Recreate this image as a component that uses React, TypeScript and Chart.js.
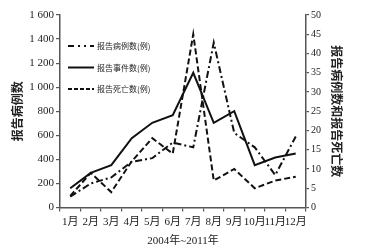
import { useEffect, useRef } from 'react';
import { Chart, registerables } from 'chart.js';

Chart.register(...registerables);

const months = ['1月', '2月', '3月', '4月', '5月', '6月', '7月', '8月', '9月', '10月', '11月', '12月'];
const caseCounts = [90, 200, 250, 380, 410, 540, 500, 1370, 620, 500, 270, 590];
const eventCounts = [5, 9, 11, 18, 22, 24, 35, 22, 25, 11, 13, 14];
const deathCounts = [3, 9, 4, 12, 18, 14, 45, 7, 10, 5, 7, 8];
const seriesLabels = ['报告病例数(例)', '报告事件数(例)', '报告死亡数(例)'];
const leftTitle = '报告病例数';
const rightTitle = '报告病例数和报告死亡数';
const xTitle = '2004年~2011年';

const FONT = "'Liberation Serif', 'Noto Sans CJK SC', serif";
const CJK = "'Noto Sans CJK SC', sans-serif";
const AXIS = '#555';
const INK = '#111';

const legendPlugin = {
  id: 'insideLegend',
  afterDatasetsDraw(chart: any) {
    const ctx = chart.ctx;
    const x0 = chart.chartArea.left + 8;
    const y0 = chart.chartArea.top + 31;
    ctx.save();
    chart.data.datasets.forEach((ds: any, i: number) => {
      const y = y0 + i * 21.5;
      ctx.beginPath();
      ctx.setLineDash(ds.legendDash || []);
      ctx.lineWidth = 2;
      ctx.strokeStyle = INK;
      ctx.moveTo(x0, y);
      ctx.lineTo(x0 + 26, y);
      ctx.stroke();
      ctx.setLineDash([]);
      ctx.fillStyle = '#222';
      ctx.font = `8px ${CJK}`;
      ctx.textBaseline = 'middle';
      ctx.textAlign = 'left';
      ctx.fillText(ds.label, x0 + 29, y);
    });
    ctx.restore();
  },
};

export default function App() {
  const ref = useRef<HTMLCanvasElement>(null);
  useEffect(() => {
    document.body.style.margin = '0';
    const chart = new Chart(ref.current!, {
      type: 'line',
      data: {
        labels: months,
        datasets: [
          {
            label: seriesLabels[0],
            data: caseCounts,
            yAxisID: 'yL',
            borderColor: INK,
            borderWidth: 2,
            borderDash: [7, 3, 2, 3],
            legendDash: [6, 4, 2, 4, 2, 4],
            pointRadius: 0,
            tension: 0,
          } as any,
          {
            label: seriesLabels[1],
            data: eventCounts,
            yAxisID: 'yR',
            borderColor: INK,
            borderWidth: 2,
            legendDash: [],
            pointRadius: 0,
            tension: 0,
          } as any,
          {
            label: seriesLabels[2],
            data: deathCounts,
            yAxisID: 'yR',
            borderColor: INK,
            borderWidth: 2,
            borderDash: [6, 3],
            legendDash: [4, 2],
            pointRadius: 0,
            tension: 0,
          } as any,
        ],
      },
      options: {
        animation: false,
        responsive: false,
        maintainAspectRatio: false,
        layout: { padding: { top: 15, left: 0, right: 0, bottom: 0 } },
        plugins: { legend: { display: false }, tooltip: { enabled: false } },
        scales: {
          x: {
            type: 'category',
            offset: true,
            grid: { offset: true, drawOnChartArea: false, tickLength: 4, color: AXIS, lineWidth: 1.2 },
            border: { color: AXIS, width: 1.5 },
            ticks: {
              autoSkip: false,
              maxRotation: 0,
              minRotation: 0,
              padding: 4,
              color: '#222',
              font: { family: FONT, size: 11 },
            },
            title: {
              display: true,
              text: xTitle,
              color: '#222',
              font: { family: FONT, size: 11 },
              padding: { top: 10, bottom: 0 },
            },
            afterFit(scale: any) {
              scale.height = 40.5;
            },
          },
          yL: {
            type: 'linear',
            position: 'left',
            min: 0,
            max: 1600,
            grid: { drawOnChartArea: false, tickLength: 4, color: AXIS, lineWidth: 1.2 },
            border: { color: AXIS, width: 1.5 },
            ticks: {
              stepSize: 200,
              padding: 2,
              color: '#222',
              font: { family: FONT, size: 11 },
              callback: (v: any) => {
                const n = Number(v);
                return n >= 1000 ? `${Math.floor(n / 1000)} ${String(n % 1000).padStart(3, '0')}` : String(n);
              },
            },
            title: {
              display: true,
              text: leftTitle,
              color: '#222',
              font: { family: CJK, size: 12, weight: 'bold' },
              padding: { top: 10, bottom: 0 },
            },
            afterFit(scale: any) {
              scale.width = 60;
            },
          },
          yR: {
            type: 'linear',
            position: 'right',
            min: 0,
            max: 50,
            grid: { drawOnChartArea: false, tickLength: 3, color: AXIS, lineWidth: 1.2 },
            border: { color: AXIS, width: 1.5 },
            ticks: {
              stepSize: 5,
              padding: 2,
              color: '#222',
              font: { family: FONT, size: 10 },
            },
            title: {
              display: true,
              text: rightTitle,
              color: '#222',
              font: { family: CJK, size: 12, weight: 'bold' },
              padding: { top: 22, bottom: 0 },
            },
            afterFit(scale: any) {
              scale.width = 60;
            },
          },
        },
      } as any,
      plugins: [legendPlugin],
    });
    return () => chart.destroy();
  }, []);
  return (
    <div style={{ width: 366, height: 248, background: '#fff' }}>
      <canvas ref={ref} width={366} height={248} style={{ display: 'block' }} />
    </div>
  );
}
